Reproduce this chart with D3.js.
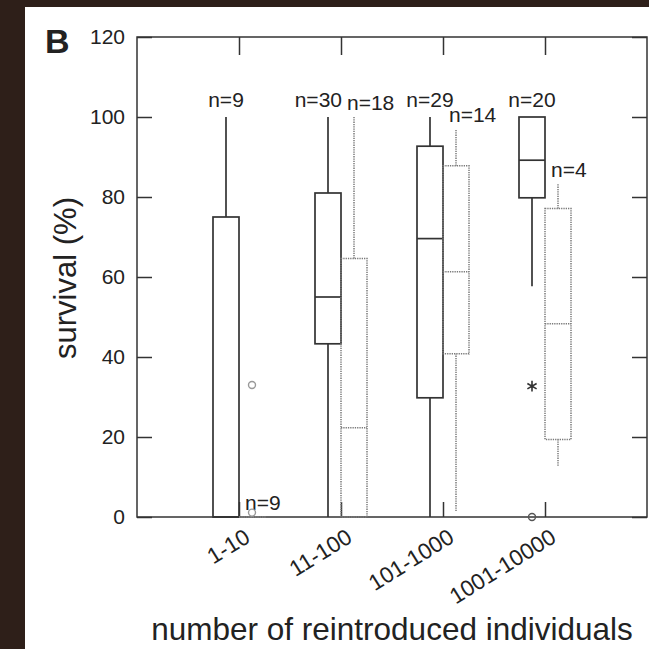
<!DOCTYPE html>
<html>
<head>
  <title>Survival by number of reintroduced individuals</title>
  <script type="text/javascript" src="https://d3js.org/d3.v7.min.js"></script>
  <style>
    body { margin: 0; background: #2e1f19; }
    text { font-family: "Liberation Sans", Arial, sans-serif; fill: #222; }
  </style>
</head>
<body>
  <div class="chart"></div>

<script type="text/javascript">
    // categories on the x axis
    const categories = ["1-10", "11-100", "101-1000", "1001-10000"];

    // box stats per category: [lower whisker, q1, median, q3, upper whisker]
    const solidStats = [
        [0, 0, 0, 75, 100],
        [0, 43.3, 55, 81, 100],
        [0, 29.8, 69.6, 92.7, 100],
        [57.7, 79.8, 89.2, 100, 100]
    ];
    const dottedStats = [
        [0, 0, 0, 0, 0],
        [0, 0, 22.3, 64.6, 100],
        [1.5, 40.8, 61.3, 87.8, 96.9],
        [12.8, 19.4, 48.3, 77.1, 83.3]
    ];
    const solidN = [9, 30, 29, 20];
    const dottedN = [9, 18, 14, 4];

    // outside values
    const outlierCategory = ["1-10", "1-10", "1001-10000", "1001-10000"];
    const outlierGroup = ["dotted", "dotted", "solid", "solid"];
    const outlierValue = [33, 1.1, 0, 32.7];
    const outlierShape = ["circle", "circle", "circle", "asterisk"];

    const yTicks = [0, 20, 40, 60, 80, 100, 120];

    const W = 649, H = 649;
    const plot = {left: 137, right: 647, top: 37, bottom: 517};
    const boxW = 26;

    const svg = d3.select(".chart")
        .append("svg")
        .attr("width", W)
        .attr("height", H);

    // dark backdrop with white panel
    svg.append("rect").attr("width", W).attr("height", H).attr("fill", "#2e1f19");
    svg.append("rect")
        .attr("x", 25).attr("y", 7)
        .attr("width", W - 25).attr("height", H - 7)
        .attr("fill", "white");

    const xScale = d3.scalePoint()
        .domain(categories)
        .range([plot.left, plot.right])
        .padding(1);

    const yScale = d3.scaleLinear()
        .domain([0, 120])
        .range([plot.bottom, plot.top]);

    const group = d3.scaleBand()
        .domain(["solid", "dotted"])
        .range([-boxW, boxW]);

    const solidStyle = {stroke: "#333", width: 1.7, dash: null};
    const dottedStyle = {stroke: "#7a7a7a", width: 1.5, dash: "1.3,1"};

    // axes: ticks point inward on all four sides
    const frame = svg.append("g").attr("class", "axes");

    frame.append("g")
        .attr("transform", `translate(${plot.left},0)`)
        .call(d3.axisLeft(yScale).tickValues(yTicks).tickSize(-15).tickSizeOuter(0).tickPadding(12))
        .call(g => g.selectAll("text").attr("font-size", 21).attr("fill", "#222"));

    frame.append("g")
        .attr("transform", `translate(${plot.right},0)`)
        .call(d3.axisRight(yScale).tickValues(yTicks).tickSize(-15).tickSizeOuter(0).tickFormat(""));

    frame.append("g")
        .attr("transform", `translate(0,${plot.top})`)
        .call(d3.axisTop(xScale).tickSize(-18).tickSizeOuter(0).tickFormat(""));

    frame.append("g")
        .attr("transform", `translate(0,${plot.bottom})`)
        .call(d3.axisBottom(xScale).tickSize(-15).tickSizeOuter(0))
        .call(g => g.selectAll("text")
            .attr("font-size", 22.5)
            .attr("fill", "#222")
            .attr("text-anchor", "end")
            .attr("x", 0).attr("y", 0).attr("dy", 0)
            .attr("transform", "translate(12,24) rotate(-32)"));

    frame.selectAll("path.domain").remove();
    frame.selectAll("line").attr("stroke", "#333").attr("stroke-width", 1.5);

    frame.append("rect")
        .attr("x", plot.left).attr("y", plot.top)
        .attr("width", plot.right - plot.left)
        .attr("height", plot.bottom - plot.top)
        .attr("fill", "none")
        .attr("stroke", "#333")
        .attr("stroke-width", 1.5);

    // boxes
    function drawBoxes(stats, counts, name, style) {
        const g = svg.append("g").attr("class", "boxes " + name);
        stats.forEach((s, i) => {
            const x0 = xScale(categories[i]) + group(name);
            const cx = x0 + group.bandwidth() / 2;
            const line = (x1, y1, x2, y2) => g.append("line")
                .attr("x1", x1).attr("y1", y1).attr("x2", x2).attr("y2", y2)
                .attr("stroke", style.stroke)
                .attr("stroke-width", style.width)
                .attr("stroke-dasharray", style.dash);

            line(cx, yScale(s[0]), cx, yScale(s[1]));
            line(cx, yScale(s[3]), cx, yScale(s[4]));
            g.append("rect")
                .attr("x", x0)
                .attr("y", yScale(s[3]))
                .attr("width", group.bandwidth())
                .attr("height", Math.max(yScale(s[1]) - yScale(s[3]), 0.01))
                .attr("fill", "none")
                .attr("stroke", style.stroke)
                .attr("stroke-width", style.width)
                .attr("stroke-dasharray", style.dash);
            line(x0, yScale(s[2]), x0 + group.bandwidth(), yScale(s[2]));

            // n labels sit above the upper whisker
            const gap = name === "dotted" ? 7 : 10;
            const ly = yScale(s[4]) - gap;
            const label = g.append("text")
                .attr("font-size", 21)
                .attr("y", ly)
                .text("n=" + counts[i]);
            if (name === "dotted") {
                label.attr("x", xScale(categories[i]) + 6).attr("text-anchor", "start");
            } else {
                const other = yScale(dottedStats[i][4]) - 7;
                if (Math.abs(other - ly) < 8) {
                    label.attr("x", xScale(categories[i]) + 1).attr("text-anchor", "end");
                } else {
                    label.attr("x", cx).attr("text-anchor", "middle");
                }
            }
        });
    }

    drawBoxes(solidStats, solidN, "solid", solidStyle);
    drawBoxes(dottedStats, dottedN, "dotted", dottedStyle);

    // outside values
    const out = svg.append("g").attr("class", "outliers");
    outlierValue.forEach((v, i) => {
        const cx = xScale(outlierCategory[i]) + group(outlierGroup[i]) + group.bandwidth() / 2;
        const cy = yScale(v);
        const col = outlierGroup[i] === "solid" ? "#555" : "#999";
        if (outlierShape[i] === "circle") {
            out.append("circle")
                .attr("cx", cx).attr("cy", cy).attr("r", 3.5)
                .attr("fill", "none")
                .attr("stroke", col)
                .attr("stroke-width", 1.4);
        } else {
            out.append("path")
                .attr("d", d3.symbol(d3.symbolAsterisk, 80)())
                .attr("transform", `translate(${cx},${cy})`)
                .attr("fill", "none")
                .attr("stroke", "#333")
                .attr("stroke-width", 1.6);
        }
    });

    // titles
    svg.append("text")
        .attr("x", 45).attr("y", 53)
        .attr("font-size", 34)
        .attr("font-weight", "bold")
        .attr("fill", "#111")
        .text("B");

    svg.append("text")
        .attr("transform", "translate(76,278) rotate(-90)")
        .attr("text-anchor", "middle")
        .attr("font-size", 31)
        .text("survival (%)");

    svg.append("text")
        .attr("x", 392).attr("y", 640)
        .attr("text-anchor", "middle")
        .attr("font-size", 31.5)
        .text("number of reintroduced individuals");
</script>
</body>
</html>
